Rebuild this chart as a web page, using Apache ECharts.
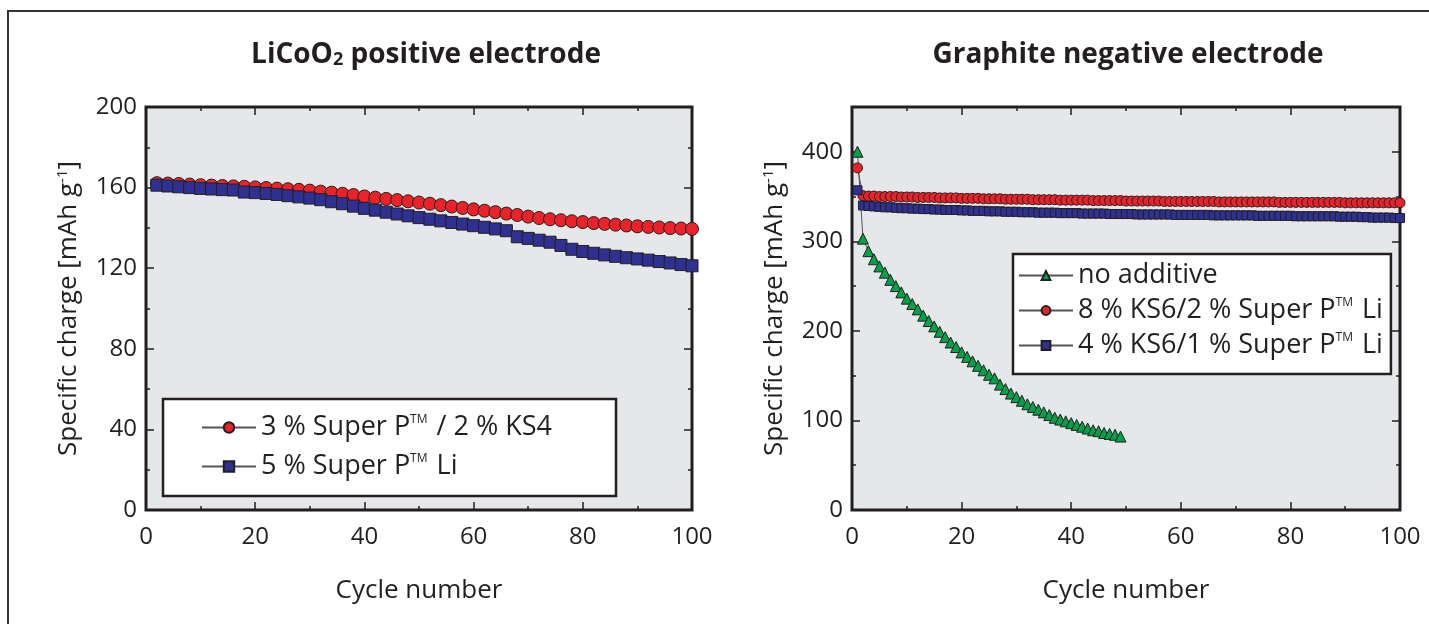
<!doctype html>
<html>
<head>
<meta charset="utf-8">
<title>Specific charge vs cycle number</title>
<script src="https://cdn.jsdelivr.net/npm/echarts@6/dist/echarts.min.js"></script>
<style>
  html, body {margin:0; padding:0; background:#fff;}
  #chart {width:1429px; height:624px;}
</style>
</head>
<body>
<div id="chart"></div>
<script>
// ---- LiCoO2 positive electrode, cycles 2,4,...,100 ----
var leftCycles = [2,4,6,8,10,12,14,16,18,20,22,24,26,28,30,32,34,36,38,40,42,44,46,48,50,
                  52,54,56,58,60,62,64,66,68,70,72,74,76,78,80,82,84,86,88,90,92,94,96,98,100];
var licooKS4 = [162.2,162,161.8,161.5,161.2,161,160.8,160.6,160.4,160.1,
                159.8,159.5,159.2,158.9,158.5,158,157.5,156.9,156.3,155.6,
                155,154.4,153.8,153.2,152.6,152,151.3,150.6,149.9,149.2,
                148.5,147.8,147.1,146.4,145.6,144.9,144.3,143.8,143.3,142.9,
                142.4,142,141.6,141.2,140.8,140.5,140.2,139.9,139.7,139.5];
var licooSuperPLi = [161.2,160.8,160.4,160,159.6,159.3,159,158.8,157.8,157.5,
                     157.1,156.6,156,155.4,154.8,154,153,152,150.8,149.7,
                     148.8,147.8,146.9,146,145.1,144.3,143.5,142.7,141.9,141.1,
                     140.3,139.5,138.6,135.6,134.8,133.9,132.9,131.3,129.4,128.3,
                     127.4,126.6,125.9,125.2,124.6,124,123.3,122.6,121.8,121.2];

// ---- Graphite negative electrode, cycles 1..100 ----
var noAdditive = [400,303,289,280,272,265,257,250,243,236,
                  230,224,217,211,205,199,193,187,182,176,
                  171,166,161,156,151,147,140,135,130,126,
                  122,118,115,112,109,106,103,101,99,97,
                  95,93,91,89,88,86,85,84,82];
var ks6_8 = [382,351,350.5,350.5,350,350,350,350,349.5,349.5,
             349.5,349,349,349,349,348.5,348.5,348.5,348.5,348,
             348,348,348,347.5,347.5,347.5,347.5,347,347,347,
             347,347,346.5,346.5,346.5,346.5,346.5,346,346,346,
             346,346,346,345.5,345.5,345.5,345.5,345.5,345.5,345,
             345,345,345,345,345,345,344.5,344.5,344.5,344.5,
             344.5,344.5,344.5,344.5,344.5,344.5,344,344,344,344,
             344,344,344,344,344,344,344,343.5,343.5,343.5,
             343.5,343.5,343.5,343.5,343.5,343.5,343.5,343.5,343.5,343,
             343,343,343,343,343,343,343,343,343,343];
var ks6_4 = [357,340,339.5,339,338.5,338,338,337.5,337,337,
             336.5,336.5,336,336,335.5,335.5,335,335,335,334.5,
             334.5,334,334,334,333.5,333.5,333.5,333,333,333,
             332.5,332.5,332.5,332,332,332,332,331.5,331.5,331.5,
             331.5,331,331,331,331,331,330.5,330.5,330.5,330.5,
             330.5,330,330,330,330,330,330,330,329.5,329.5,
             329.5,329.5,329.5,329.5,329.5,329,329,329,329,329,
             329,329,329,328.5,328.5,328.5,328.5,328.5,328.5,328.5,
             328,328,328,328,328,328,328,328,327.5,327.5,
             327.5,327.5,327,327,326.5,326.5,326.5,326.5,326,326];

var FONT = '"Open Sans", "Noto Sans", sans-serif';
var INK = '#231f20';
var RED = '#ec2229', BLUE = '#2e3192', GREEN = '#00a04b';

function pairs(xs, ys) {
  return ys.map(function (v, i) { return [xs[i], v]; });
}
function idx(n, start) {
  var a = [];
  for (var i = 0; i < n; i++) a.push(start + i);
  return a;
}
var rightCycles = idx(100, 1);

// ticks point into the plot; onZero off so the mirror axes stay on their own side
var tickCfg = {show: true, inside: true, length: 8, lineStyle: {color: INK, width: 1.5}};
var minorCfg = {show: true, splitNumber: 2, length: 4, lineStyle: {color: INK, width: 1.5}};

function xAx(grid, pos, showLabel) {
  return {
    type: 'value', gridIndex: grid, position: pos, min: 0, max: 100, interval: 20,
    name: showLabel ? 'Cycle number' : '', nameLocation: 'middle', nameGap: 68,
    nameTextStyle: {fontFamily: FONT, fontSize: 26, color: INK},
    axisLine: {show: false, onZero: false},
    axisTick: tickCfg,
    minorTick: minorCfg,
    axisLabel: {show: showLabel, fontFamily: FONT, fontSize: 24, color: INK, margin: 15},
    splitLine: {show: false}
  };
}
function yAx(grid, pos, showLabel, max, interval) {
  return {
    type: 'value', gridIndex: grid, position: pos, min: 0, max: max, interval: interval,
    name: showLabel ? 'Specific charge [mAh g{sup|-1}]' : '', nameLocation: 'middle', nameGap: 64,
    nameTextStyle: {fontFamily: FONT, fontSize: 26, color: INK,
      rich: {sup: {fontFamily: FONT, fontSize: 15, color: INK, verticalAlign: 'top', padding: [0, 0, 12, 0]}}},
    axisLine: {show: false, onZero: false},
    axisTick: tickCfg,
    minorTick: minorCfg,
    axisLabel: {show: showLabel, fontFamily: FONT, fontSize: 24, color: INK, margin: 9, showMaxLabel: max === 200},
    splitLine: {show: false}
  };
}

var tmRich = {tm: {fontFamily: FONT, fontSize: 12, color: INK, verticalAlign: 'top', padding: [0, 2, 12, 0]}};
function tmFormat(name) { return name.replace('™', '{tm|TM}'); }

function lineSeries(name, x, y, data, symbol, size, color) {
  return {
    name: name, type: 'line', xAxisIndex: x, yAxisIndex: y, data: data,
    symbol: symbol, symbolSize: size, showAllSymbol: true,
    lineStyle: {color: '#555', width: 1},
    itemStyle: {color: color, borderColor: INK, borderWidth: 1},
    emphasis: {disabled: true}, animation: false
  };
}

var chart = echarts.init(document.getElementById('chart'));
chart.setOption({
  backgroundColor: '#fff',
  animation: false,
  graphic: [{
    type: 'rect', silent: true, z: 100,
    shape: {x: 8, y: 11, width: 1600, height: 800},
    style: {fill: 'none', stroke: '#333', lineWidth: 2}
  }],
  title: [{
    text: 'LiCoO{sub|2} positive electrode', left: 421, top: 36, textAlign: 'center',
    textStyle: {fontFamily: FONT, fontSize: 28, fontWeight: 'bold', color: INK,
      rich: {sub: {fontFamily: FONT, fontSize: 18, fontWeight: 'bold', color: INK, verticalAlign: 'bottom', padding: [10, 0, 0, 0]}}}
  }, {
    text: 'Graphite negative electrode', left: 1123, top: 36, textAlign: 'center',
    textStyle: {fontFamily: FONT, fontSize: 28, fontWeight: 'bold', color: INK}
  }],
  grid: [
    {left: 146, right: 737, top: 107, bottom: 114, show: true, backgroundColor: '#e6e7e9', borderColor: INK, borderWidth: 3},
    {left: 852, right: 29, top: 107, bottom: 114, show: true, backgroundColor: '#e6e7e9', borderColor: INK, borderWidth: 3}
  ],
  xAxis: [xAx(0, 'bottom', true), xAx(0, 'top', false), xAx(1, 'bottom', true), xAx(1, 'top', false)],
  yAxis: [yAx(0, 'left', true, 200, 40), yAx(0, 'right', false, 200, 40),
          yAx(1, 'left', true, 450, 100), yAx(1, 'right', false, 450, 100)],
  legend: [{
    data: ['3 % Super P™ / 2 % KS4', '5 % Super P™ Li'],
    orient: 'vertical', left: 163, top: 399,
    padding: [15, 64, 16, 38], itemGap: 12, itemWidth: 54, itemHeight: 13,
    borderColor: INK, borderWidth: 2.5, backgroundColor: '#fff',
    formatter: tmFormat,
    textStyle: {fontFamily: FONT, fontSize: 27, color: INK, rich: tmRich},
    selectedMode: false
  }, {
    data: ['no additive', '8 % KS6/2 % Super P™ Li', '4 % KS6/1 % Super P™ Li'],
    orient: 'vertical', left: 1013, top: 254,
    padding: [8, 8, 15, 5], itemGap: 8, itemWidth: 54, itemHeight: 11,
    borderColor: INK, borderWidth: 2.5, backgroundColor: '#fff',
    formatter: tmFormat,
    textStyle: {fontFamily: FONT, fontSize: 27, color: INK, rich: tmRich},
    selectedMode: false
  }],
  series: [
    lineSeries('3 % Super P™ / 2 % KS4', 0, 0, pairs(leftCycles, licooKS4), 'circle', 13, RED),
    lineSeries('5 % Super P™ Li', 0, 0, pairs(leftCycles, licooSuperPLi), 'rect', 12, BLUE),
    lineSeries('no additive', 2, 2, pairs(rightCycles, noAdditive), 'triangle', 11, GREEN),
    lineSeries('8 % KS6/2 % Super P™ Li', 2, 2, pairs(rightCycles, ks6_8), 'circle', 10, RED),
    lineSeries('4 % KS6/1 % Super P™ Li', 2, 2, pairs(rightCycles, ks6_4), 'rect', 9, BLUE)
  ]
});
</script>
</body>
</html>
